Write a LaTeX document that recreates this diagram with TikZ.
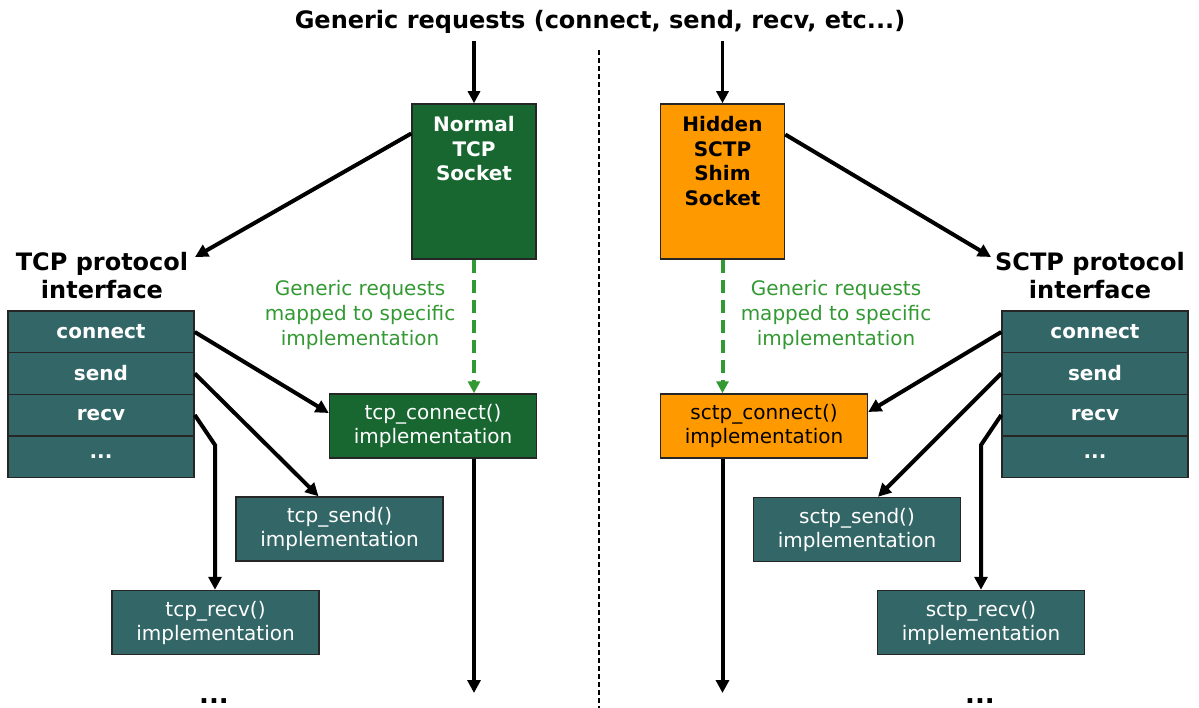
\documentclass[tikz,border=0pt]{standalone}
\usepackage{fontspec}
\setmainfont{DejaVu Sans}
\usetikzlibrary{arrows.meta}
\definecolor{tcpgreen}{RGB}{24,102,48}
\definecolor{ifteal}{RGB}{51,102,102}
\definecolor{shimorange}{RGB}{255,153,0}
\definecolor{mapgreen}{RGB}{51,153,51}

\begin{document}
\begin{tikzpicture}[x=1pt,y=-1pt,
  box/.style={draw=black!85, line width=1.5pt, inner sep=0pt},
  implbox/.style={box, minimum width=207pt, minimum height=64pt, align=center,
    font=\fontsize{20}{24}\selectfont},
  rowbox/.style={box, fill=ifteal, text=white, minimum width=186pt, minimum height=41.5pt,
    font=\bfseries\fontsize{20}{24}\selectfont},
  sockbox/.style={box, minimum width=124pt, minimum height=155pt},
  socktext/.style={anchor=north, align=center, inner sep=0pt,
    font=\bfseries\fontsize{20}{24.5}\selectfont},
  heading/.style={align=center, inner sep=0pt, font=\bfseries\fontsize{24}{28}\selectfont},
  maptext/.style={align=center, inner sep=0pt, text=mapgreen, font=\fontsize{20}{25}\selectfont},
  flow/.style={line width=4pt, -{Triangle[length=13pt,width=13pt]}},
  inflow/.style={line width=3.5pt, -{Triangle[length=12pt,width=12pt]}},
  mapflow/.style={draw=mapgreen, line width=4pt, dash pattern=on 13pt off 7pt,
    -{Triangle[length=12pt,width=12pt]}},
  dots/.style={anchor=base, inner sep=0pt, font=\bfseries\fontsize{26}{26}\selectfont}
]
\useasboundingbox (0,0) rectangle (1199,708);
\clip (0,0) rectangle (1199,708);

% title and divider
\node[heading] (title) at (600,22) {Generic requests (connect, send, recv, etc...)};
\coordinate (divtop) at (599,50);
\coordinate (divbot) at (599,708);
\draw[line width=1.3pt, dash pattern=on 5pt off 3pt] (divtop) -- (divbot);

% sockets
\node[sockbox, fill=tcpgreen] (tcpsock) at (474,181.5) {};
\node[socktext, text=white] (tcpsocklbl) at ([yshift=-13pt]tcpsock.north) {Normal\\TCP\\Socket};
\node[sockbox, fill=shimorange] (sctpsock) at (722.5,181.5) {};
\node[socktext, text=black] (sctpsocklbl) at ([yshift=-13pt]sctpsock.north) {Hidden\\SCTP\\Shim\\Socket};

\coordinate (tcpin) at (474,41);
\coordinate (sctpin) at (722.5,41);
\draw[inflow] (tcpin) -- (tcpsock.north);
\draw[inflow] (sctpin) -- (sctpsock.north);

% protocol interface headings
\node[heading] (tcphead) at (102,276) {TCP protocol\\interface};
\node[heading] (sctphead) at (1090,276) {SCTP protocol\\interface};
\coordinate (tcphdtip) at (195,257);
\coordinate (sctphdtip) at (991,257);
\draw[flow] ([yshift=48pt]tcpsock.west) -- (tcphdtip);
\draw[flow] ([yshift=47pt]sctpsock.east) -- (sctphdtip);

% interface tables
\node[rowbox] (lconn) at (101,332) {connect};
\node[rowbox] (lsend) at (101,373.5) {send};
\node[rowbox] (lrecv) at (101,415) {recv};
\node[rowbox] (lmore) at (101,456.5) {...};
\node[rowbox] (rconn) at (1095,332) {connect};
\node[rowbox] (rsend) at (1095,373.5) {send};
\node[rowbox] (rrecv) at (1095,415) {recv};
\node[rowbox] (rmore) at (1095,456.5) {...};

% mapping notes
\node[maptext] (tcpmap) at (360,315) {Generic requests\\mapped to specific\\implementation};
\node[maptext] (sctpmap) at (836,315) {Generic requests\\mapped to specific\\implementation};

% implementations
\node[implbox, fill=tcpgreen, text=white] (tcpconn) at (433,426) {tcp\_connect()\\implementation};
\node[implbox, fill=ifteal, text=white] (tcpsend) at (339.5,529) {tcp\_send()\\implementation};
\node[implbox, fill=ifteal, text=white] (tcprecv) at (215.5,622.5) {tcp\_recv()\\implementation};
\node[implbox, fill=shimorange, text=black] (sctpconn) at (764,426) {sctp\_connect()\\implementation};
\node[implbox, fill=ifteal, text=white] (sctpsend) at (857,529.5) {sctp\_send()\\implementation};
\node[implbox, fill=ifteal, text=white] (sctprecv) at (981,622.5) {sctp\_recv()\\implementation};

% socket to implementation mapping
\draw[mapflow] (tcpsock.south) -- (tcpsock.south |- tcpconn.north);
\draw[mapflow] (sctpsock.south) -- (sctpsock.south |- sctpconn.north);

% interface rows to implementations (TCP)
\draw[flow] (lconn.east) -- ([yshift=13pt]tcpconn.west);
\draw[flow] (lsend.east) -- ([xshift=-21pt]tcpsend.north);
\coordinate (lkink) at (215,445);
\draw[flow] (lrecv.east) -- (lkink) -- (lkink |- tcprecv.north);

% interface rows to implementations (SCTP)
\draw[flow] (rconn.west) -- ([yshift=14pt]sctpconn.east);
\draw[flow] (rsend.west) -- ([xshift=21pt]sctpsend.north);
\coordinate (rkink) at (981,445);
\draw[flow] (rrecv.west) -- (rkink) -- (rkink |- sctprecv.north);

% downward continuation
\coordinate (tcpout) at (474,693);
\coordinate (sctpout) at (722.5,693);
\draw[flow] (tcpsock.south |- tcpconn.south) -- (tcpout);
\draw[flow] (sctpsock.south |- sctpconn.south) -- (sctpout);

% trailing ellipses
\node[dots] (tcpdots) at (214,703) {...};
\node[dots] (sctpdots) at (980,703) {...};
\end{tikzpicture}
\end{document}
